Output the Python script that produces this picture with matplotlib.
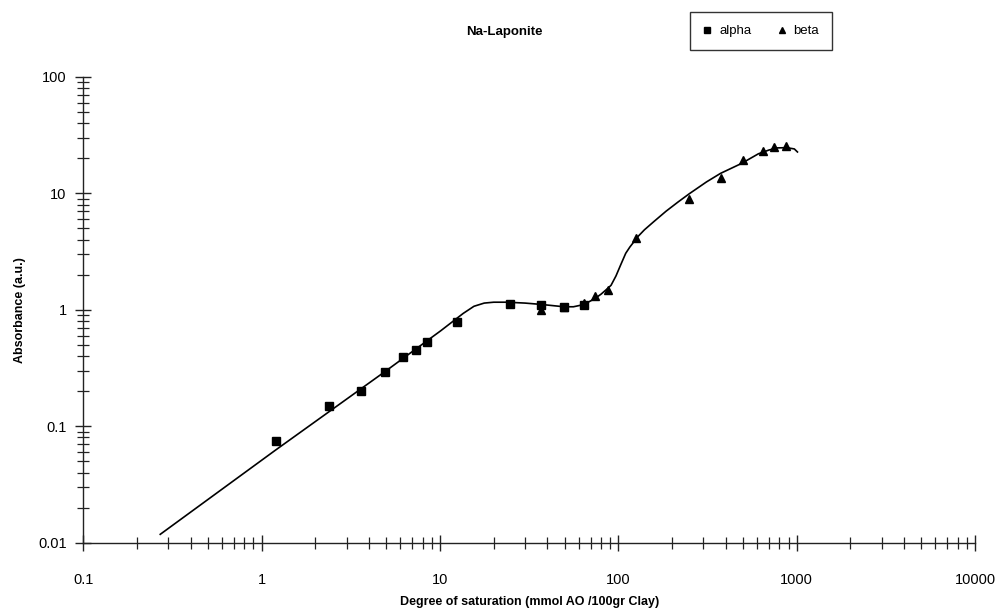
import matplotlib.pyplot as plt
from matplotlib.ticker import LogLocator, FixedLocator, NullFormatter

plt.rcParams['font.family'] = ['Liberation Sans', 'DejaVu Sans']

# alpha points (squares)
alpha_x = [1.2, 2.4, 3.6, 4.9, 6.2, 7.3, 8.5, 12.4, 24.6, 37, 49.5, 64]
alpha_y = [0.075, 0.15, 0.2, 0.29, 0.39, 0.45, 0.53, 0.79, 1.13, 1.1, 1.05, 1.1]

# beta points (triangles)
beta_x = [37, 49.5, 64, 74, 87, 126, 250, 374, 500, 650, 750, 875]
beta_y = [1.0, 1.05, 1.15, 1.32, 1.48, 4.1, 8.9, 13.6, 19.3, 23.2, 24.8, 25.2]

# fitted curve
curve_x = [0.27, 1.19, 5.0, 10.1, 13.5, 15.5, 17.7, 20.0, 23.8, 30.0, 37.0, 44.0,
           49.5, 56.0, 61.0, 67.0, 73.5, 80.0, 87.0, 91.0, 97.0, 103.0, 110.0,
           116.0, 121.0, 126.0, 140.0, 158.0, 185.0, 216.0, 250.0, 312.0, 374.0,
           490.0, 610.0, 700.0, 780.0, 880.0, 970.0, 1010.0]
curve_y = [0.0118, 0.062, 0.30, 0.66, 0.93, 1.07, 1.14, 1.16, 1.16, 1.14, 1.11, 1.08,
           1.06, 1.06, 1.09, 1.15, 1.24, 1.36, 1.52, 1.62, 1.95, 2.42, 3.05,
           3.45, 3.75, 4.1, 4.85, 5.7, 7.0, 8.4, 9.9, 12.5, 14.8,
           18.0, 21.8, 23.5, 24.5, 24.6, 24.0, 22.6]

fig = plt.figure(figsize=(9.99, 6.08), dpi=100)
ax = fig.add_axes([0.0834, 0.1074, 0.8926, 0.7664])

ax.plot(curve_x, curve_y, color='black', lw=1.2, zorder=2)
ax.plot(alpha_x, alpha_y, 's', color='black', ms=5.5, ls='none', label='alpha', zorder=3)
ax.plot(beta_x, beta_y, '^', color='black', ms=5.5, ls='none', label='beta', zorder=3)

ax.set_xscale('log')
ax.set_yscale('log')
ax.set_xlim(0.1, 10000)
ax.set_ylim(0.01, 100)

ax.xaxis.set_major_locator(FixedLocator([0.1, 1, 10, 100, 1000, 10000]))
ax.yaxis.set_major_locator(FixedLocator([0.01, 0.1, 1, 10, 100]))
ax.set_xticklabels(['0.1', '1', '10', '100', '1000', '10000'])
ax.set_yticklabels(['0.01', '0.1', '1', '10', '100'])
ax.xaxis.set_minor_locator(LogLocator(base=10, subs=range(2, 10), numticks=20))
ax.yaxis.set_minor_locator(LogLocator(base=10, subs=range(2, 10), numticks=20))
ax.xaxis.set_minor_formatter(NullFormatter())
ax.yaxis.set_minor_formatter(NullFormatter())

for s in ['top', 'right']:
    ax.spines[s].set_visible(False)
for s in ['left', 'bottom']:
    ax.spines[s].set_linewidth(1.0)
    ax.spines[s].set_color('#222222')

ax.tick_params(axis='both', which='major', direction='inout', length=12, width=1.0,
               labelsize=10.5, color='#222222')
ax.tick_params(axis='both', which='minor', direction='inout', length=8, width=0.9,
               color='#222222')
ax.tick_params(axis='x', which='major', pad=16)
ax.tick_params(axis='y', which='major', pad=6)

ax.set_xlabel('Degree of saturation (mmol AO /100gr Clay)', fontsize=9, fontweight='bold',
              labelpad=6)
ax.set_ylabel('Absorbance (a.u.)', fontsize=9, fontweight='bold', labelpad=9)

fig.text(0.505, 0.947, 'Na-Laponite', ha='center', va='center', fontsize=9.5,
         fontweight='bold')

leg = fig.legend(loc='center', bbox_to_anchor=(0.762, 0.949), ncol=2, fontsize=9.5,
                 frameon=True, fancybox=False, edgecolor='black', handlelength=0.6,
                 handletextpad=0.6, columnspacing=2.0, borderpad=1.0, markerscale=0.75)
leg.get_frame().set_linewidth(1.0)

fig.savefig('out.png', dpi=100)
